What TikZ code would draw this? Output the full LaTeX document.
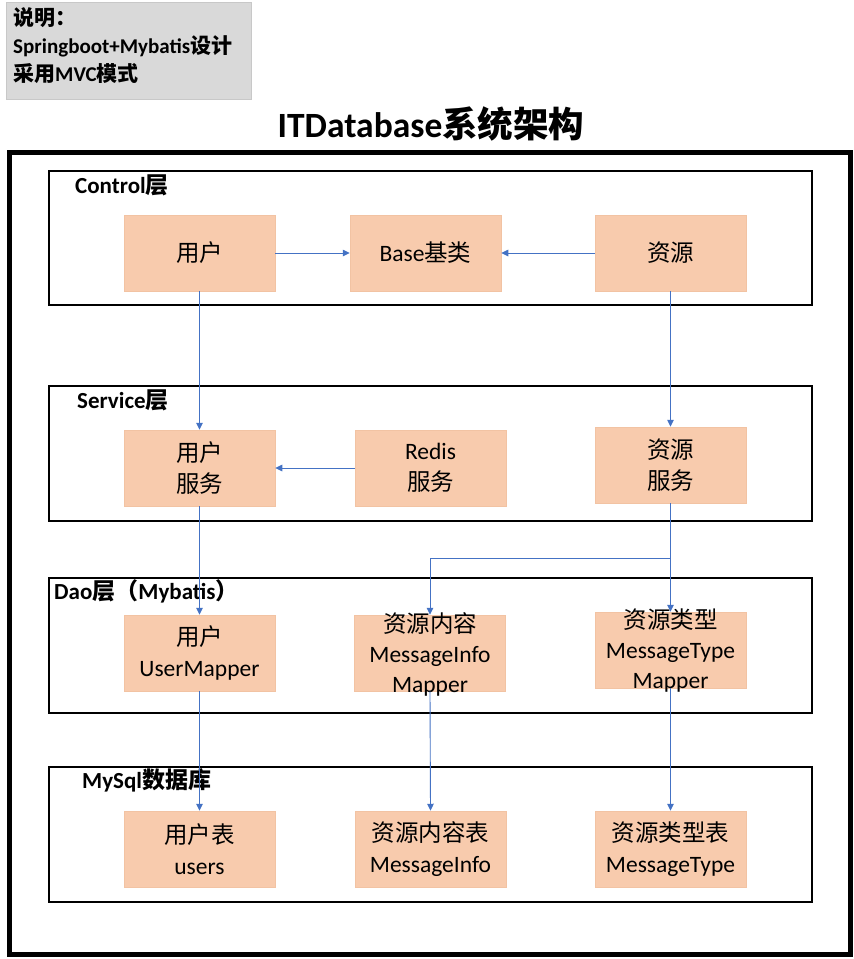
\documentclass[tikz,border=0pt]{standalone}
\usepackage{fontspec}
\setmainfont{Carlito}
\newfontfamily\cjk{Noto Sans CJK SC}
\usetikzlibrary{arrows.meta}
\definecolor{peach}{HTML}{F8CBAD}
\definecolor{peachedge}{HTML}{F2C3A3}
\definecolor{arrblue}{HTML}{4472C4}
\definecolor{notegray}{HTML}{D9D9D9}
\definecolor{noteedge}{HTML}{C8C8C8}
\begin{document}
\begin{tikzpicture}[x=1pt,y=-1pt,
  nbox/.style={fill=peach,draw=peachedge,line width=0.5pt,minimum width=151pt,minimum height=76pt,inner sep=0pt,align=center,font=\fontsize{23.5}{31}\selectfont},
  layer/.style={draw=black,line width=1.6pt},
  llabel/.style={anchor=west,inner sep=0pt,font=\fontsize{23}{27}\selectfont\bfseries},
  arr/.style={draw=arrblue,line width=0.9pt,-{Triangle[length=7pt,width=6.5pt]}}
]
\useasboundingbox (0,0) rectangle (854,959);
\fill[white] (0,0) rectangle (854,959);
% note
\node[draw=noteedge,fill=notegray,minimum width=245pt,minimum height=97pt,inner sep=0pt,anchor=north west] (note) at (6,2) {};
\node[anchor=west,inner sep=0pt,align=left,font=\fontsize{21}{28}\selectfont\bfseries] (notetext) at (13,46)
  {{\cjk 说明：}\\Springboot+Mybatis{\cjk 设计}\\{\cjk 采用}MVC{\cjk 模式}};
% title
\node[inner sep=0pt,font=\fontsize{35.5}{40}\selectfont\bfseries] (title) at (431,124) {ITDatabase{\cjk 系统架构}};
% outer frame
\draw[line width=5pt] (9.5,152) rectangle (850.5,954.5);
% layers
\draw[layer] (49,171) rectangle (812,305);
\draw[layer] (49,386) rectangle (812,521);
\draw[layer] (49,578) rectangle (812,713);
\draw[layer] (49,767) rectangle (812,902);
\node[llabel] (lc) at (75,185) {Control{\cjk 层}};
\node[llabel] (ls) at (77,400) {Service{\cjk 层}};
\node[llabel] (ld) at (54,591) {Dao{\cjk 层（}Mybatis{\cjk ）}};
\node[llabel] (lm) at (82,780) {MySql{\cjk 数据库}};
% control
\node[nbox] (c1) at (199.5,253) {\cjk 用户};
\node[nbox] (c2) at (425.5,253) {Base{\cjk 基类}};
\node[nbox] (c3) at (670.5,253) {\cjk 资源};
% service
\node[nbox] (s1) at (199.5,468) {{\cjk 用户}\\{\cjk 服务}};
\node[nbox] (s2) at (430.5,468) {Redis\\{\cjk 服务}};
\node[nbox] (s3) at (670.5,465) {{\cjk 资源}\\{\cjk 服务}};
% dao
\node[nbox] (d1) at (199.5,653) {{\cjk 用户}\\UserMapper};
\node[nbox] (d2) at (430,653) {};
\node[align=center,inner sep=0pt,font=\fontsize{23.5}{30}\selectfont] (d2t) at (430,654) {{\cjk 资源内容}\\MessageInfo\\Mapper};
\node[nbox] (d3) at (670.5,650) {};
\node[align=center,inner sep=0pt,font=\fontsize{23.5}{30}\selectfont] (d3t) at (670.5,651) {{\cjk 资源类型}\\MessageType\\Mapper};
% mysql
\node[nbox] (m1) at (199.5,849) {{\cjk 用户表}\\users};
\node[nbox] (m2) at (430.5,849) {{\cjk 资源内容表}\\MessageInfo};
\node[nbox] (m3) at (670.5,849) {{\cjk 资源类型表}\\MessageType};
% arrows
\draw[arr] (c1.east) -- (c2.west);
\draw[arr] (c3.west) -- (c2.east);
\draw[arr] (c1.south) -- (s1.north);
\draw[arr] (c3.south) -- (s3.north);
\draw[arr] (s2.west) -- (s1.east);
\draw[arr] (s1.south) -- (d1.north);
\coordinate (br) at (670.5,558);
\draw[arr] (s3.south) -- (d3.north);
\draw[arr] (br) -| (d2.north);
\draw[arr] (d1.south) -- (m1.north);
\draw[arr] (d2.south) -- (m2.north);
\draw[arr] (d3.south) -- (m3.north);
\end{tikzpicture}
\end{document}
